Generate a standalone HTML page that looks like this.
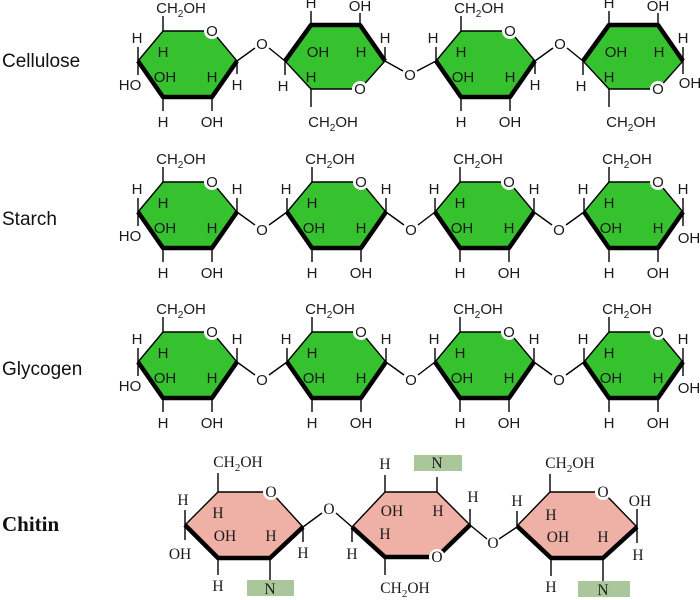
<!DOCTYPE html>
<html><head><meta charset="utf-8"><style>
html,body{margin:0;padding:0;background:#fff;}
svg{display:block;}
.s text{font-family:"Liberation Sans",sans-serif;font-size:15px;fill:#1a1a1a;text-anchor:middle;}
.c text{font-family:"Liberation Serif",serif;font-size:15.5px;fill:#1a1a1a;text-anchor:middle;}
line,polyline{stroke:#000;stroke-width:1.4;fill:none;}
.g{fill:#36c22f;stroke:#000;stroke-width:1.4;}
.p{fill:#efb0a6;stroke:#000;stroke-width:1.4;}
.t{stroke-width:4.5;stroke-linejoin:round;}
.w{fill:#fff;}
.nb{fill:#a9c79b;}
.lab{font-family:"Liberation Sans",sans-serif;font-size:19px;fill:#111;}
</style></head><body>
<svg width="700" height="600" viewBox="0 0 700 600">
<text class="lab" x="2" y="67">Cellulose</text>
<text class="lab" x="2" y="225">Starch</text>
<text class="lab" x="2" y="375">Glycogen</text>
<text x="2" y="531" style="font-family:'Liberation Serif',serif;font-size:21px;font-weight:bold;fill:#111">Chitin</text>

<g class="s">
<!-- CELLULOSE ring1 -->
<g transform="translate(138,61)">
<polygon class="g" points="0,0 25,-30 74,-30 99,0 74,36 25,36"/>
<polyline class="t" points="0,0 25,36 74,36 99,0"/>
<circle class="w" cx="74" cy="-30" r="8"/><text x="74" y="-25">O</text>
<line x1="25" y1="-30" x2="25" y2="-45"/><line x1="0" y1="0" x2="0" y2="-14"/><line x1="0" y1="0" x2="0" y2="14"/>
<line x1="25" y1="36" x2="25" y2="50"/><line x1="74" y1="36" x2="74" y2="50"/>
<text x="43" y="-48">CH<tspan font-size="10" dy="4">2</tspan><tspan dy="-4">OH</tspan></text>
<text x="-1" y="-18">H</text><text x="-8" y="29">HO</text><text x="25" y="-4">H</text><text x="27" y="21">OH</text><text x="74" y="21">H</text><text x="25" y="66">H</text><text x="74" y="66">OH</text>
<line x1="99" y1="0" x2="99" y2="13"/><text x="99" y="29">H</text>
<line x1="99" y1="0" x2="117" y2="-13"/><text x="124" y="-12">O</text><line x1="131" y1="-13" x2="147" y2="0"/>
</g>
<!-- CELLULOSE ring3 -->
<g transform="translate(436,61)">
<polygon class="g" points="0,0 25,-30 74,-30 99,0 74,36 25,36"/>
<polyline class="t" points="0,0 25,36 74,36 99,0"/>
<circle class="w" cx="74" cy="-30" r="8"/><text x="74" y="-25">O</text>
<line x1="25" y1="-30" x2="25" y2="-45"/><line x1="0" y1="0" x2="0" y2="-14"/>
<line x1="25" y1="36" x2="25" y2="50"/><line x1="74" y1="36" x2="74" y2="50"/>
<text x="43" y="-48">CH<tspan font-size="10" dy="4">2</tspan><tspan dy="-4">OH</tspan></text>
<text x="-3" y="-18">H</text><text x="25" y="-4">H</text><text x="27" y="21">OH</text><text x="74" y="21">H</text><text x="25" y="66">H</text><text x="74" y="66">OH</text>
<line x1="99" y1="0" x2="99" y2="13"/><text x="99" y="29">H</text>
<line x1="99" y1="0" x2="117" y2="-13"/><text x="124" y="-12">O</text><line x1="131" y1="-13" x2="147" y2="0"/>
</g>
<!-- CELLULOSE ring2 -->
<g transform="translate(285,61)">
<polygon class="g" points="0,0 26,-36 75,-36 100,0 75,28 26,28"/>
<polyline class="t" points="0,0 26,-36 75,-36 100,0"/>
<circle class="w" cx="75" cy="28" r="8"/><text x="75" y="33">O</text>
<line x1="0" y1="0" x2="0" y2="14"/><line x1="26" y1="-36" x2="26" y2="-50"/><line x1="75" y1="-36" x2="75" y2="-48"/>
<line x1="26" y1="28" x2="26" y2="46"/><line x1="100" y1="0" x2="100" y2="-14"/>
<text x="-2" y="30">H</text><text x="26" y="-53">H</text><text x="75" y="-50">OH</text><text x="33" y="-4">OH</text><text x="76" y="-4">H</text><text x="26" y="21">H</text>
<text x="48" y="66">CH<tspan font-size="10" dy="4">2</tspan><tspan dy="-4">OH</tspan></text>
<text x="100" y="-18">H</text>
<line x1="100" y1="0" x2="118" y2="10"/><text x="125" y="19">O</text><line x1="132" y1="10" x2="151" y2="0"/>
</g>
<!-- CELLULOSE ring4 -->
<g transform="translate(583,61)">
<polygon class="g" points="0,0 26,-36 75,-36 100,0 75,28 26,28"/>
<polyline class="t" points="0,0 26,-36 75,-36 100,0"/>
<circle class="w" cx="75" cy="28" r="8"/><text x="75" y="33">O</text>
<line x1="0" y1="0" x2="0" y2="14"/><line x1="26" y1="-36" x2="26" y2="-50"/><line x1="75" y1="-36" x2="75" y2="-48"/>
<line x1="26" y1="28" x2="26" y2="46"/><line x1="100" y1="0" x2="100" y2="-14"/>
<text x="-2" y="30">H</text><text x="26" y="-53">H</text><text x="75" y="-50">OH</text><text x="33" y="-4">OH</text><text x="76" y="-4">H</text><text x="26" y="21">H</text>
<text x="48" y="66">CH<tspan font-size="10" dy="4">2</tspan><tspan dy="-4">OH</tspan></text>
<text x="100" y="-18">H</text>
<line x1="100" y1="0" x2="100" y2="13"/><text x="107" y="27">OH</text>
</g>

<!-- STARCH -->
<g transform="translate(138,212)">
<polygon class="g" points="0,0 25,-30 74,-30 99,0 74,36 25,36"/><polyline class="t" points="0,0 25,36 74,36 99,0"/>
<circle class="w" cx="74" cy="-30" r="8"/><text x="74" y="-25">O</text>
<line x1="25" y1="-30" x2="25" y2="-45"/><line x1="0" y1="0" x2="0" y2="-14"/><line x1="0" y1="0" x2="0" y2="14"/><line x1="25" y1="36" x2="25" y2="50"/><line x1="74" y1="36" x2="74" y2="50"/>
<text x="43" y="-48">CH<tspan font-size="10" dy="4">2</tspan><tspan dy="-4">OH</tspan></text>
<text x="-1" y="-18">H</text><text x="-8" y="29">HO</text><text x="25" y="-4">H</text><text x="27" y="21">OH</text><text x="74" y="21">H</text><text x="25" y="66">H</text><text x="74" y="66">OH</text>
<line x1="99" y1="0" x2="99" y2="-14"/><text x="99" y="-18">H</text>
<line x1="99" y1="0" x2="117" y2="13"/><text x="124" y="23">O</text><line x1="131" y1="13" x2="149" y2="0"/>
</g>
<g transform="translate(287,212)">
<polygon class="g" points="0,0 25,-30 74,-30 99,0 74,36 25,36"/><polyline class="t" points="0,0 25,36 74,36 99,0"/>
<circle class="w" cx="74" cy="-30" r="8"/><text x="74" y="-25">O</text>
<line x1="25" y1="-30" x2="25" y2="-45"/><line x1="0" y1="0" x2="0" y2="-14"/><line x1="25" y1="36" x2="25" y2="50"/><line x1="74" y1="36" x2="74" y2="50"/>
<text x="43" y="-48">CH<tspan font-size="10" dy="4">2</tspan><tspan dy="-4">OH</tspan></text>
<text x="-1" y="-18">H</text><text x="25" y="-4">H</text><text x="27" y="21">OH</text><text x="74" y="21">H</text><text x="25" y="66">H</text><text x="74" y="66">OH</text>
<line x1="99" y1="0" x2="99" y2="-14"/><text x="99" y="-18">H</text>
<line x1="99" y1="0" x2="117" y2="13"/><text x="124" y="23">O</text><line x1="131" y1="13" x2="148" y2="0"/>
</g>
<g transform="translate(435,212)">
<polygon class="g" points="0,0 25,-30 74,-30 99,0 74,36 25,36"/><polyline class="t" points="0,0 25,36 74,36 99,0"/>
<circle class="w" cx="74" cy="-30" r="8"/><text x="74" y="-25">O</text>
<line x1="25" y1="-30" x2="25" y2="-45"/><line x1="0" y1="0" x2="0" y2="-14"/><line x1="25" y1="36" x2="25" y2="50"/><line x1="74" y1="36" x2="74" y2="50"/>
<text x="43" y="-48">CH<tspan font-size="10" dy="4">2</tspan><tspan dy="-4">OH</tspan></text>
<text x="-1" y="-18">H</text><text x="25" y="-4">H</text><text x="27" y="21">OH</text><text x="74" y="21">H</text><text x="25" y="66">H</text><text x="74" y="66">OH</text>
<line x1="99" y1="0" x2="99" y2="-14"/><text x="99" y="-18">H</text>
<line x1="99" y1="0" x2="117" y2="13"/><text x="124" y="23">O</text><line x1="131" y1="13" x2="149" y2="0"/>
</g>
<g transform="translate(584,212)">
<polygon class="g" points="0,0 25,-30 74,-30 99,0 74,36 25,36"/><polyline class="t" points="0,0 25,36 74,36 99,0"/>
<circle class="w" cx="74" cy="-30" r="8"/><text x="74" y="-25">O</text>
<line x1="25" y1="-30" x2="25" y2="-45"/><line x1="0" y1="0" x2="0" y2="-14"/><line x1="25" y1="36" x2="25" y2="50"/><line x1="74" y1="36" x2="74" y2="50"/>
<text x="43" y="-48">CH<tspan font-size="10" dy="4">2</tspan><tspan dy="-4">OH</tspan></text>
<text x="-1" y="-18">H</text><text x="25" y="-4">H</text><text x="27" y="21">OH</text><text x="74" y="21">H</text><text x="25" y="66">H</text><text x="74" y="66">OH</text>
<line x1="99" y1="0" x2="99" y2="-14"/><text x="99" y="-18">H</text>
<line x1="99" y1="0" x2="99" y2="14"/><text x="105" y="31">OH</text>
</g>

<!-- GLYCOGEN -->
<g transform="translate(138,362)">
<polygon class="g" points="0,0 25,-30 74,-30 99,0 74,36 25,36"/><polyline class="t" points="0,0 25,36 74,36 99,0"/>
<circle class="w" cx="74" cy="-30" r="8"/><text x="74" y="-25">O</text>
<line x1="25" y1="-30" x2="25" y2="-45"/><line x1="0" y1="0" x2="0" y2="-14"/><line x1="0" y1="0" x2="0" y2="14"/><line x1="25" y1="36" x2="25" y2="50"/><line x1="74" y1="36" x2="74" y2="50"/>
<text x="43" y="-48">CH<tspan font-size="10" dy="4">2</tspan><tspan dy="-4">OH</tspan></text>
<text x="-1" y="-18">H</text><text x="-8" y="29">HO</text><text x="25" y="-4">H</text><text x="27" y="21">OH</text><text x="74" y="21">H</text><text x="25" y="66">H</text><text x="74" y="66">OH</text>
<line x1="99" y1="0" x2="99" y2="-14"/><text x="99" y="-18">H</text>
<line x1="99" y1="0" x2="117" y2="13"/><text x="124" y="23">O</text><line x1="131" y1="13" x2="149" y2="0"/>
</g>
<g transform="translate(287,362)">
<polygon class="g" points="0,0 25,-30 74,-30 99,0 74,36 25,36"/><polyline class="t" points="0,0 25,36 74,36 99,0"/>
<circle class="w" cx="74" cy="-30" r="8"/><text x="74" y="-25">O</text>
<line x1="25" y1="-30" x2="25" y2="-45"/><line x1="0" y1="0" x2="0" y2="-14"/><line x1="25" y1="36" x2="25" y2="50"/><line x1="74" y1="36" x2="74" y2="50"/>
<text x="43" y="-48">CH<tspan font-size="10" dy="4">2</tspan><tspan dy="-4">OH</tspan></text>
<text x="-1" y="-18">H</text><text x="25" y="-4">H</text><text x="27" y="21">OH</text><text x="74" y="21">H</text><text x="25" y="66">H</text><text x="74" y="66">OH</text>
<line x1="99" y1="0" x2="99" y2="-14"/><text x="99" y="-18">H</text>
<line x1="99" y1="0" x2="117" y2="13"/><text x="124" y="23">O</text><line x1="131" y1="13" x2="148" y2="0"/>
</g>
<g transform="translate(435,362)">
<polygon class="g" points="0,0 25,-30 74,-30 99,0 74,36 25,36"/><polyline class="t" points="0,0 25,36 74,36 99,0"/>
<circle class="w" cx="74" cy="-30" r="8"/><text x="74" y="-25">O</text>
<line x1="25" y1="-30" x2="25" y2="-45"/><line x1="0" y1="0" x2="0" y2="-14"/><line x1="25" y1="36" x2="25" y2="50"/><line x1="74" y1="36" x2="74" y2="50"/>
<text x="43" y="-48">CH<tspan font-size="10" dy="4">2</tspan><tspan dy="-4">OH</tspan></text>
<text x="-1" y="-18">H</text><text x="25" y="-4">H</text><text x="27" y="21">OH</text><text x="74" y="21">H</text><text x="25" y="66">H</text><text x="74" y="66">OH</text>
<line x1="99" y1="0" x2="99" y2="-14"/><text x="99" y="-18">H</text>
<line x1="99" y1="0" x2="117" y2="13"/><text x="124" y="23">O</text><line x1="131" y1="13" x2="149" y2="0"/>
</g>
<g transform="translate(584,362)">
<polygon class="g" points="0,0 25,-30 74,-30 99,0 74,36 25,36"/><polyline class="t" points="0,0 25,36 74,36 99,0"/>
<circle class="w" cx="74" cy="-30" r="8"/><text x="74" y="-25">O</text>
<line x1="25" y1="-30" x2="25" y2="-45"/><line x1="0" y1="0" x2="0" y2="-14"/><line x1="25" y1="36" x2="25" y2="50"/><line x1="74" y1="36" x2="74" y2="50"/>
<text x="43" y="-48">CH<tspan font-size="10" dy="4">2</tspan><tspan dy="-4">OH</tspan></text>
<text x="-1" y="-18">H</text><text x="25" y="-4">H</text><text x="27" y="21">OH</text><text x="74" y="21">H</text><text x="25" y="66">H</text><text x="74" y="66">OH</text>
<line x1="99" y1="0" x2="99" y2="-14"/><text x="99" y="-18">H</text>
<line x1="99" y1="0" x2="99" y2="14"/><text x="105" y="31">OH</text>
</g>
</g>

<!-- CHITIN -->
<g class="c">
<g transform="translate(185,525)">
<polygon class="p" points="0,0 33,-33 86,-33 118,2 85,33 33,33"/>
<polyline class="t" points="0,0 33,33 85,33 118,2"/>
<circle class="w" cx="86" cy="-33" r="8"/><text x="86" y="-28">O</text>
<line x1="33" y1="-33" x2="33" y2="-52"/><line x1="0" y1="0" x2="0" y2="-15"/><line x1="0" y1="0" x2="0" y2="15"/>
<line x1="33" y1="33" x2="33" y2="50"/><line x1="85" y1="33" x2="85" y2="55"/>
<text x="53" y="-58">CH<tspan font-size="11" dy="4">2</tspan><tspan dy="-4">OH</tspan></text>
<text x="-2" y="-20">H</text><text x="-5" y="34">OH</text><text x="33" y="-7">H</text><text x="40" y="16">OH</text><text x="86" y="16">H</text><text x="33" y="66">H</text>
<rect class="nb" x="62" y="55" width="47" height="16"/><text x="85" y="69">N</text>
<line x1="118" y1="2" x2="118" y2="17"/><text x="118" y="33">H</text>
<line x1="118" y1="2" x2="137" y2="-12"/><text x="144" y="-11">O</text><line x1="151" y1="-12" x2="167" y2="2"/>
</g>
<g transform="translate(352,527)">
<polygon class="p" points="0,0 33,-35 85,-35 118,-2 85,30 33,30"/>
<polyline class="t" points="0,0 33,30 85,30 118,-2"/>
<circle class="w" cx="85" cy="30" r="8"/><text x="85" y="35">O</text>
<line x1="0" y1="0" x2="0" y2="15"/><line x1="33" y1="-35" x2="33" y2="-52"/><line x1="85" y1="-35" x2="85" y2="-50"/>
<line x1="33" y1="30" x2="33" y2="48"/><line x1="118" y1="-2" x2="118" y2="-18"/>
<text x="0" y="32">H</text><text x="33" y="-58">H</text>
<rect class="nb" x="62" y="-72" width="48" height="16"/><text x="85" y="-59">N</text>
<text x="40" y="-11">OH</text><text x="86" y="-11">H</text><text x="33" y="12">H</text>
<text x="53" y="66">CH<tspan font-size="11" dy="4">2</tspan><tspan dy="-4">OH</tspan></text>
<text x="121" y="-25">H</text>
<line x1="118" y1="-2" x2="135" y2="12"/><text x="141" y="21">O</text><line x1="147" y1="12" x2="165" y2="0"/>
</g>
<g transform="translate(517,526)">
<polygon class="p" points="0,0 33,-34 86,-34 120,1 86,32 34,32"/>
<polyline class="t" points="0,0 34,32 86,32 120,1"/>
<circle class="w" cx="86" cy="-34" r="8"/><text x="86" y="-29">O</text>
<line x1="33" y1="-34" x2="33" y2="-52"/><line x1="0" y1="0" x2="0" y2="-15"/>
<line x1="34" y1="32" x2="34" y2="50"/><line x1="86" y1="32" x2="86" y2="55"/>
<text x="53" y="-58">CH<tspan font-size="11" dy="4">2</tspan><tspan dy="-4">OH</tspan></text>
<text x="0" y="-20">H</text><text x="34" y="-6">H</text><text x="41" y="16">OH</text><text x="86" y="16">H</text><text x="34" y="66">H</text>
<rect class="nb" x="61" y="55" width="52" height="16"/><text x="86" y="69">N</text>
<line x1="120" y1="1" x2="120" y2="-17"/><text x="123" y="-20">OH</text>
<line x1="120" y1="1" x2="120" y2="17"/><text x="121" y="34">H</text>
</g>
</g>
</svg>
</body></html>
